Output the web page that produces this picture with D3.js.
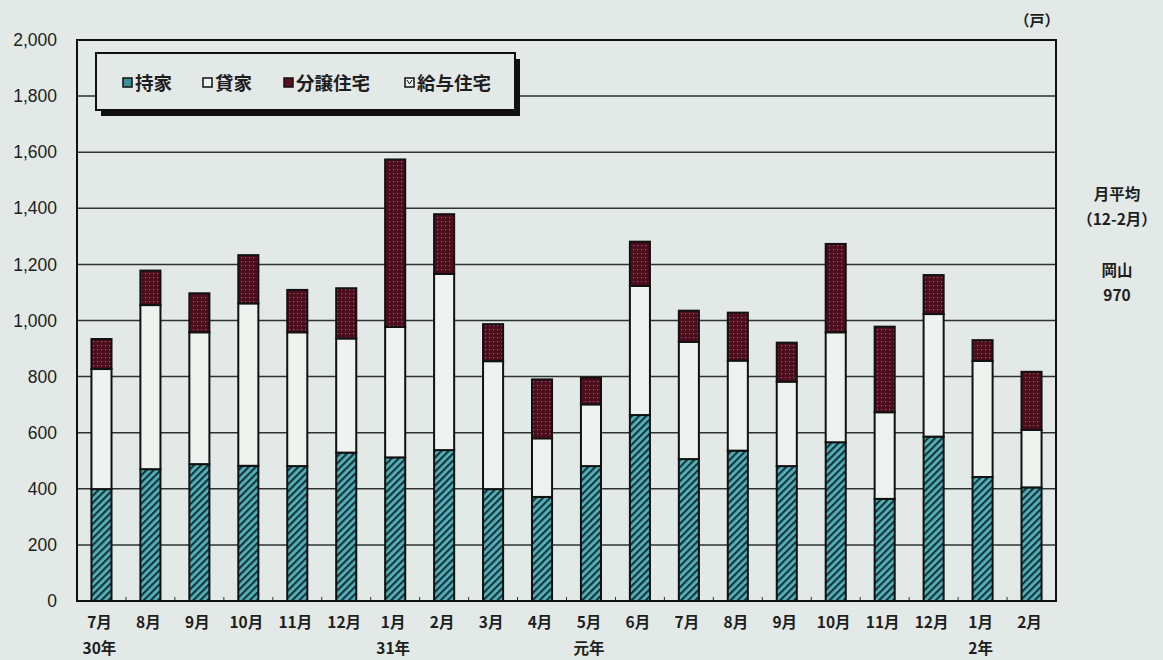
<!DOCTYPE html>
<html lang="ja">
<head>
<meta charset="utf-8">
<script src="https://cdn.jsdelivr.net/npm/d3@7"></script>
<style>
  html, body { margin: 0; padding: 0; background: #e2e9e6; }
  svg { display: block; }
  .jp { font-family: "Noto Sans CJK JP", "Noto Sans", sans-serif; font-weight: 700; fill: #1e1e1e; }
  .num { font-family: "Liberation Sans", Arial, sans-serif; fill: #1e1e1e; }
</style>
</head>
<body>
<svg id="chart" width="1163" height="660"></svg>
<script>
// 月別・利用関係別 新設住宅着工戸数（岡山）
const months = ["7月","8月","9月","10月","11月","12月","1月","2月","3月","4月","5月","6月","7月","8月","9月","10月","11月","12月","1月","2月"];
const years  = ["30年","","","","","","31年","","","","元年","","","","","","","","2年",""];
const owned   = [399,470,488,482,481,529,512,538,399,371,481,663,506,536,481,566,364,586,442,405];
const rented  = [428,585,470,579,477,407,465,628,456,209,220,460,418,321,301,392,309,437,414,205];
const forSale = [107,123,139,172,151,179,597,213,132,210, 95,158,111,171,139,315,305,139, 74,207];
const issued  = [  0,  0,  0,  0,  0,  0,  0,  0,  0,  0,  0,  0,  0,  0,  0,  0,  0,  0,  0,  0];
const seriesNames = ["持家","貸家","分譲住宅","給与住宅"];
const yTicks = [0,200,400,600,800,1000,1200,1400,1600,1800,2000];

const svg = d3.select("#chart");
const margin = { left: 77, right: 107, top: 40, bottom: 59 };
const W = 1163, H = 660;
const x0 = margin.left, x1 = W - margin.right, y0 = H - margin.bottom, y1 = margin.top;

// fill patterns: hatched teal and dotted maroon
const defs = svg.append("defs");
const hatch = defs.append("pattern").attr("id", "hatch")
  .attr("patternUnits", "userSpaceOnUse").attr("width", 5).attr("height", 5)
  .attr("patternTransform", "rotate(45)");
hatch.append("rect").attr("width", 5).attr("height", 5).attr("fill", "#52b3b8");
hatch.append("rect").attr("width", 2.2).attr("height", 5).attr("fill", "#17343f");

const dots = defs.append("pattern").attr("id", "dots")
  .attr("patternUnits", "userSpaceOnUse").attr("width", 4).attr("height", 4);
dots.append("rect").attr("width", 4).attr("height", 4).attr("fill", "#4d0d1c");
dots.append("rect").attr("x", 1).attr("y", 1).attr("width", 1.2).attr("height", 1.2).attr("fill", "#a25a69");

const fills = ["url(#hatch)", "#eef3f0", "url(#dots)", "#eef3f0"];

const x = d3.scaleBand().domain(d3.range(months.length)).range([x0, x1]).paddingInner(0.59).paddingOuter(0.295);
const xb = d3.scaleBand().domain(d3.range(months.length)).range([x0, x1]);
const y = d3.scaleLinear().domain([0, 2000]).range([y0, y1]);

// gridlines
svg.append("g").selectAll("line").data(yTicks.slice(1, -1)).join("line")
  .attr("x1", x0).attr("x2", x1)
  .attr("y1", d => y(d)).attr("y2", d => y(d))
  .attr("stroke", "#2e3332").attr("stroke-width", 1.5);

// y axis labels
const yAxis = d3.axisLeft(y).tickValues(yTicks).tickSize(0).tickPadding(20)
  .tickFormat(d3.format(","));
const ya = svg.append("g").attr("transform", `translate(${x0},0)`).call(yAxis);
ya.select(".domain").remove();
ya.selectAll("text").attr("class", "num").attr("font-size", 17.5).attr("fill", "#1e1e1e");

// stacked bars
const rows = months.map((m, i) => ({ i, s0: owned[i], s1: rented[i], s2: forSale[i], s3: issued[i] }));
const stack = d3.stack().keys(["s0","s1","s2","s3"])(rows);
stack.forEach((layer, k) => {
  svg.append("g").selectAll("rect").data(layer.filter(d => d[1] > d[0])).join("rect")
    .attr("x", d => x(d.data.i))
    .attr("width", x.bandwidth())
    .attr("y", d => y(d[1]))
    .attr("height", d => y(d[0]) - y(d[1]))
    .attr("fill", fills[k])
    .attr("stroke", "#111").attr("stroke-width", 2);
});

// bottom ticks between categories
svg.append("g").selectAll("line").data(d3.range(1, months.length)).join("line")
  .attr("x1", d => xb(d)).attr("x2", d => xb(d))
  .attr("y1", y0).attr("y2", y0 - 4)
  .attr("stroke", "#333").attr("stroke-width", 1);

// frame
svg.append("rect").attr("x", x0).attr("y", y1).attr("width", x1 - x0).attr("height", y0 - y1)
  .attr("fill", "none").attr("stroke", "#111").attr("stroke-width", 2);

// x labels
const xa = svg.append("g");
xa.selectAll("text.m").data(months).join("text").attr("class", "jp m")
  .attr("x", (d, i) => xb(i) + xb.bandwidth() / 2 - 2).attr("y", 628)
  .attr("text-anchor", "middle").attr("font-size", 15.5).text(d => d);
xa.selectAll("text.yr").data(years).join("text").attr("class", "jp yr")
  .attr("x", (d, i) => xb(i) + xb.bandwidth() / 2 - 2).attr("y", 654)
  .attr("text-anchor", "middle").attr("font-size", 15.5).text(d => d);

// legend
const lg = svg.append("g");
lg.append("rect").attr("x", 101).attr("y", 59).attr("width", 419).attr("height", 57).attr("fill", "#111");
lg.append("rect").attr("x", 96).attr("y", 53).attr("width", 419).attr("height", 57)
  .attr("fill", "#e2e9e6").attr("stroke", "#111").attr("stroke-width", 2);
const legX = [123, 203, 284, 405];
seriesNames.forEach((name, k) => {
  lg.append("rect").attr("x", legX[k]).attr("y", 78).attr("width", 9).attr("height", 9)
    .attr("fill", k === 0 ? "#3d8f99" : k === 2 ? "#5a1020" : "#eef3f0")
    .attr("stroke", "#111").attr("stroke-width", 1.5);
  if (k === 3) {
    lg.append("path").attr("d", `M${legX[k] + 2},${80} L${legX[k] + 4.5},${84} L${legX[k] + 7},${80}`)
      .attr("fill", "none").attr("stroke", "#111").attr("stroke-width", 1);
  }
  lg.append("text").attr("class", "jp").attr("x", legX[k] + 12).attr("y", 89.5)
    .attr("font-size", 18.5).text(name);
});

// unit and side note
svg.append("text").attr("class", "jp").attr("x", 1037).attr("y", 26)
  .attr("text-anchor", "middle").attr("font-size", 15).text("（戸）");
const note = [["月平均", 200], ["（12-2月）", 225], ["岡山", 276], ["970", 301]];
svg.append("g").selectAll("text").data(note).join("text").attr("class", "jp")
  .attr("x", 1117).attr("y", d => d[1]).attr("text-anchor", "middle")
  .attr("font-size", 15.5).text(d => d[0]);
</script>
</body>
</html>
